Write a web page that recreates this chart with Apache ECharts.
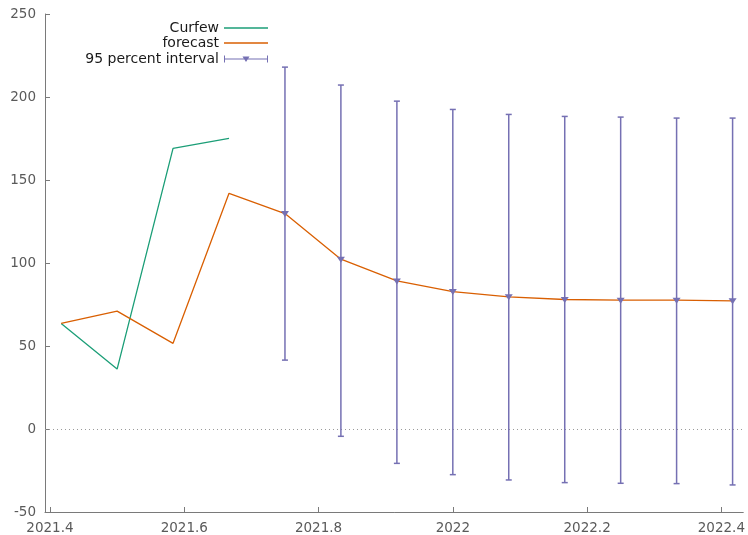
<!DOCTYPE html>
<html>
<head>
<meta charset="utf-8">
<script src="https://cdn.jsdelivr.net/npm/echarts@6/dist/echarts.min.js"></script>
<style>
  html, body { margin: 0; padding: 0; background: #ffffff; }
  #chart { width: 748px; height: 535px; }
</style>
</head>
<body>
<div id="chart"></div>
<script>
// Monthly time points (decimal years)
const curfewX = [2021.4167, 2021.5, 2021.5833, 2021.6667];
const curfewValues = [63.6, 36.1, 169.1, 175.1];

const forecastX = [2021.4167, 2021.5, 2021.5833, 2021.6667, 2021.75, 2021.8333, 2021.9167,
                   2022.0, 2022.0833, 2022.1667, 2022.25, 2022.3333, 2022.4167];
const forecastValues = [63.6, 71.0, 51.6, 142.0, 129.8, 102.3, 89.2, 82.8, 79.6, 78.0, 77.6, 77.6, 77.2];

// 95 percent interval bounds for the forecast months
const intervalX = [2021.75, 2021.8333, 2021.9167, 2022.0, 2022.0833, 2022.1667, 2022.25, 2022.3333, 2022.4167];
const intervalLow = [41.5, -4.4, -20.7, -27.5, -30.7, -32.3, -32.7, -32.9, -33.7];
const intervalHigh = [218.0, 207.2, 197.5, 192.5, 189.5, 188.3, 187.9, 187.3, 187.3];

const xTickValues = [2021.4, 2021.6, 2021.8, 2022.0, 2022.2, 2022.4];

const GREEN = '#1b9e77', ORANGE = '#d95f02', PURPLE = '#7570b3';
const FONT = 'DejaVu Sans';

const curfewData = curfewX.map((x, i) => [x, curfewValues[i]]);
const forecastData = forecastX.map((x, i) => [x, forecastValues[i]]);
const intervalData = intervalX.map((x, i) => {
  const mid = forecastValues[forecastX.indexOf(x)];
  return [x, intervalLow[i], intervalHigh[i], mid];
});

const intervalIcon = 'path://M0,0 L1,0 L1,3 L43,3 L43,0 L44,0 L44,7 L43,7 L43,4 L1,4 L1,7 L0,7 Z M18.5,1 L25.5,1 L22,6.5 Z';

const legendBase = {
  orient: 'horizontal',
  align: 'right',
  right: 480,
  padding: 0,
  itemWidth: 44,
  selectedMode: false,
  textStyle: { fontFamily: FONT, fontSize: 14, color: '#1a1a1a', lineHeight: 16 }
};

const chart = echarts.init(document.getElementById('chart'), null, { renderer: 'canvas' });
chart.setOption({
  animation: false,
  backgroundColor: '#ffffff',
  grid: { left: 45, right: 0, top: 14, bottom: 22, containLabel: false },
  legend: [
    Object.assign({}, legendBase, { data: ['Curfew'], top: 20, icon: 'rect', itemHeight: 1.5 }),
    Object.assign({}, legendBase, { data: ['forecast'], top: 35, icon: 'rect', itemHeight: 1.5 }),
    Object.assign({}, legendBase, { data: ['95 percent interval'], top: 51, icon: intervalIcon, itemHeight: 7 })
  ],
  xAxis: {
    type: 'value',
    min: 2021.3926,
    max: 2022.4326,
    axisLine: { show: true, onZero: false, lineStyle: { color: '#7a7a7a', width: 1 } },
    axisTick: { show: true, inside: true, length: 5, customValues: xTickValues,
                lineStyle: { color: '#7a7a7a' } },
    axisLabel: {
      customValues: xTickValues,
      margin: 9,
      fontFamily: FONT, fontSize: 13.5, color: '#5a5a5a',
      formatter: v => String(+(+v).toFixed(1))
    },
    splitLine: { show: false }
  },
  yAxis: {
    type: 'value',
    min: -50, max: 250, interval: 50,
    axisLine: { show: true, onZero: false, lineStyle: { color: '#7a7a7a', width: 1 } },
    axisTick: { show: true, inside: true, length: 5, lineStyle: { color: '#7a7a7a' } },
    axisLabel: { margin: 9, fontFamily: FONT, fontSize: 13.5, color: '#5a5a5a' },
    splitLine: { show: false }
  },
  series: [
    {
      name: 'Curfew',
      type: 'line',
      data: curfewData,
      color: GREEN,
      showSymbol: false,
      symbol: 'none',
      lineStyle: { color: GREEN, width: 1.3 },
      markLine: {
        silent: true,
        symbol: 'none',
        label: { show: false },
        lineStyle: { color: '#9a9a9a', type: [1, 3], width: 1 },
        data: [{ yAxis: 0 }]
      },
      z: 3
    },
    {
      name: 'forecast',
      type: 'line',
      data: forecastData,
      color: ORANGE,
      showSymbol: false,
      symbol: 'none',
      lineStyle: { color: ORANGE, width: 1.3 },
      z: 4
    },
    {
      name: '95 percent interval',
      type: 'custom',
      color: PURPLE,
      data: intervalData,
      encode: { x: 0, y: [1, 2, 3] },
      z: 5,
      renderItem: function (params, api) {
        const x = api.value(0);
        const lo = api.coord([x, api.value(1)]);
        const hi = api.coord([x, api.value(2)]);
        const mid = api.coord([x, api.value(3)]);
        const cap = 3;
        const st = { stroke: PURPLE, lineWidth: 1.5, fill: null };
        return {
          type: 'group',
          children: [
            { type: 'line', shape: { x1: lo[0], y1: lo[1], x2: hi[0], y2: hi[1] }, style: st },
            { type: 'line', shape: { x1: hi[0] - cap, y1: hi[1], x2: hi[0] + cap, y2: hi[1] }, style: st },
            { type: 'line', shape: { x1: lo[0] - cap, y1: lo[1], x2: lo[0] + cap, y2: lo[1] }, style: st },
            { type: 'polygon',
              shape: { points: [[mid[0] - 4, mid[1] - 2.5], [mid[0] + 4, mid[1] - 2.5], [mid[0], mid[1] + 3.5]] },
              style: { fill: PURPLE, stroke: null } }
          ]
        };
      }
    }
  ]
});
</script>
</body>
</html>
